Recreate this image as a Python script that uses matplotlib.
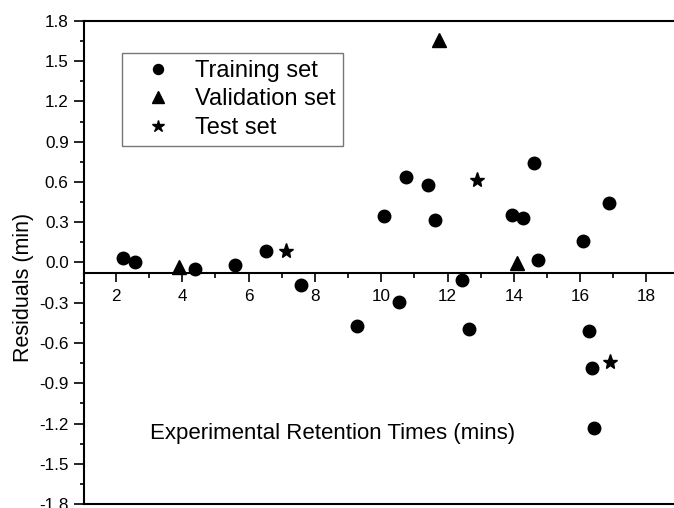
import matplotlib
matplotlib.use("Agg")
import matplotlib.pyplot as plt
from matplotlib.ticker import MultipleLocator, FormatStrFormatter
from matplotlib.lines import Line2D

plt.rcParams['font.family'] = ['Liberation Sans', 'DejaVu Sans']
plt.rcParams['axes.unicode_minus'] = False

# Data
train_x = [2.21, 2.57, 4.37, 5.59, 6.52, 7.57, 9.28, 10.08, 10.54, 10.74, 11.42, 11.63,
           12.45, 12.66, 13.94, 14.28, 14.62, 14.72, 16.08, 16.27, 16.35, 16.42, 16.87]
train_y = [0.035, 0.005, -0.052, -0.015, 0.082, -0.166, -0.472, 0.346, -0.293, 0.639, 0.574, 0.318,
           -0.131, -0.497, 0.353, 0.331, 0.738, 0.020, 0.157, -0.51, -0.79, -1.235, 0.447]
val_x = [3.89, 11.73, 14.10]
val_y = [-0.035, 1.655, 0.0]
test_x = [7.12, 12.88, 16.89]
test_y = [0.082, 0.614, -0.74]

labels = ["Training set", "Validation set", "Test set"]
xlabel = "Experimental Retention Times (mins)"
ylabel = "Residuals (min)"

fig = plt.figure(figsize=(6.74, 5.08), dpi=100)
ax = fig.add_axes([84/674, 4/508, 590/674, 483/508])

ax.plot(train_x, train_y, 'o', color='black', markersize=9, linestyle='none', label=labels[0])
ax.plot(val_x, val_y, '^', color='black', markersize=10, linestyle='none', label=labels[1])
ax.plot(test_x, test_y, '*', color='black', markersize=11, linestyle='none', label=labels[2])

ax.set_xlim(1.035, 18.83)
ax.set_ylim(-1.8, 1.8)

ax.spines['right'].set_visible(False)
ax.spines['bottom'].set_position(('data', -0.075))
for s in ['left', 'top', 'bottom']:
    ax.spines[s].set_linewidth(1.5)
ax.add_line(Line2D([0, 1], [0, 0], transform=ax.transAxes, color='black', lw=1.5, clip_on=False))

ax.xaxis.set_major_locator(MultipleLocator(2))
ax.xaxis.set_minor_locator(MultipleLocator(1))
ax.yaxis.set_major_locator(MultipleLocator(0.3))
ax.yaxis.set_minor_locator(MultipleLocator(0.15))
ax.yaxis.set_major_formatter(FormatStrFormatter('%.1f'))
ax.xaxis.set_major_formatter(FormatStrFormatter('%d'))

ax.tick_params(axis='x', which='major', direction='out', length=6.5, width=1.2, labelsize=12.3, pad=5)
ax.tick_params(axis='x', which='minor', direction='out', length=3.5, width=1.2)
ax.tick_params(axis='y', which='major', direction='out', length=7, width=1.2, labelsize=12.3, pad=4)
ax.tick_params(axis='y', which='minor', direction='out', length=3, width=1.2)

ax.text((333-84)/590, (504-434)/483, xlabel, transform=ax.transAxes,
        ha='center', va='center', fontsize=16)
ax.text((23-84)/590, (504-287)/483, ylabel, transform=ax.transAxes,
        ha='center', va='center', rotation=90, fontsize=15.5)

leg = ax.legend(loc='upper left', bbox_to_anchor=((121.7-84)/590, (504-52.7)/483),
                borderaxespad=0, fontsize=17, frameon=True, fancybox=False,
                edgecolor='#777777', framealpha=1, handletextpad=0.35, labelspacing=0.28,
                markerscale=0.8, borderpad=0.3, handlelength=2.45)
leg.get_frame().set_linewidth(1.0)

fig.savefig("out.png", dpi=100)
